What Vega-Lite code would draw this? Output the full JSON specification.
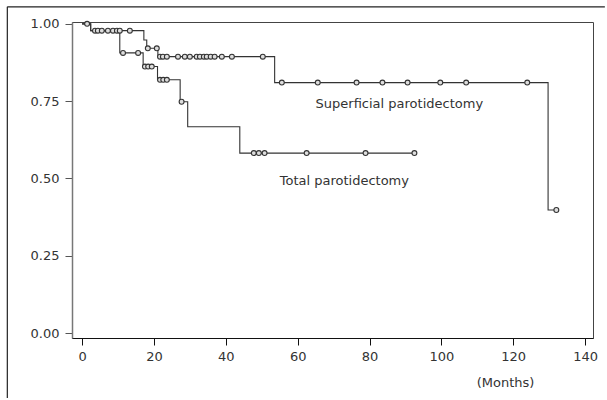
{
  "$schema": "https://vega.github.io/schema/vega-lite/v6.json",
  "width": 521,
  "height": 316,
  "autosize": {"type": "none"},
  "padding": {"left": 72, "top": 22, "right": 14, "bottom": 62},
  "background": "white",
  "config": {
    "view": {"stroke": "#444", "strokeWidth": 1},
    "font": "DejaVu Sans"
  },
  "datasets": {
    "steps": [
      {"group": "Superficial", "t": 0, "s": 1.0},
      {"group": "Superficial", "t": 2.4, "s": 0.978},
      {"group": "Superficial", "t": 17.2, "s": 0.948},
      {"group": "Superficial", "t": 18.0, "s": 0.921},
      {"group": "Superficial", "t": 21.1, "s": 0.894},
      {"group": "Superficial", "t": 53.6, "s": 0.81},
      {"group": "Superficial", "t": 129.7, "s": 0.398},
      {"group": "Superficial", "t": 132, "s": 0.398},
      {"group": "Total", "t": 0, "s": 1.0},
      {"group": "Total", "t": 2.4, "s": 0.978},
      {"group": "Total", "t": 10.5, "s": 0.906},
      {"group": "Total", "t": 17.0, "s": 0.862},
      {"group": "Total", "t": 21.0, "s": 0.819},
      {"group": "Total", "t": 27.3, "s": 0.748},
      {"group": "Total", "t": 29.4, "s": 0.667},
      {"group": "Total", "t": 43.9, "s": 0.582},
      {"group": "Total", "t": 92.5, "s": 0.582}
    ],
    "censored": [
      {"group": "Superficial", "t": 1.4, "s": 1.0},
      {"group": "Superficial", "t": 3.6, "s": 0.978},
      {"group": "Superficial", "t": 4.4, "s": 0.978},
      {"group": "Superficial", "t": 5.5, "s": 0.978},
      {"group": "Superficial", "t": 7.2, "s": 0.978},
      {"group": "Superficial", "t": 8.6, "s": 0.978},
      {"group": "Superficial", "t": 9.7, "s": 0.978},
      {"group": "Superficial", "t": 10.5, "s": 0.978},
      {"group": "Superficial", "t": 13.3, "s": 0.978},
      {"group": "Superficial", "t": 18.3, "s": 0.921},
      {"group": "Superficial", "t": 20.8, "s": 0.921},
      {"group": "Superficial", "t": 21.7, "s": 0.894},
      {"group": "Superficial", "t": 22.5, "s": 0.894},
      {"group": "Superficial", "t": 23.6, "s": 0.894},
      {"group": "Superficial", "t": 26.7, "s": 0.894},
      {"group": "Superficial", "t": 28.6, "s": 0.894},
      {"group": "Superficial", "t": 30.0, "s": 0.894},
      {"group": "Superficial", "t": 31.9, "s": 0.894},
      {"group": "Superficial", "t": 32.8, "s": 0.894},
      {"group": "Superficial", "t": 33.9, "s": 0.894},
      {"group": "Superficial", "t": 34.7, "s": 0.894},
      {"group": "Superficial", "t": 35.8, "s": 0.894},
      {"group": "Superficial", "t": 36.9, "s": 0.894},
      {"group": "Superficial", "t": 38.9, "s": 0.894},
      {"group": "Superficial", "t": 41.7, "s": 0.894},
      {"group": "Superficial", "t": 50.3, "s": 0.894},
      {"group": "Superficial", "t": 55.6, "s": 0.81},
      {"group": "Superficial", "t": 65.6, "s": 0.81},
      {"group": "Superficial", "t": 76.4, "s": 0.81},
      {"group": "Superficial", "t": 83.6, "s": 0.81},
      {"group": "Superficial", "t": 90.6, "s": 0.81},
      {"group": "Superficial", "t": 99.7, "s": 0.81},
      {"group": "Superficial", "t": 106.9, "s": 0.81},
      {"group": "Superficial", "t": 123.9, "s": 0.81},
      {"group": "Superficial", "t": 132, "s": 0.398},
      {"group": "Total", "t": 11.4, "s": 0.906},
      {"group": "Total", "t": 15.6, "s": 0.906},
      {"group": "Total", "t": 17.5, "s": 0.862},
      {"group": "Total", "t": 18.4, "s": 0.862},
      {"group": "Total", "t": 19.4, "s": 0.862},
      {"group": "Total", "t": 21.7, "s": 0.819},
      {"group": "Total", "t": 22.6, "s": 0.819},
      {"group": "Total", "t": 23.6, "s": 0.819},
      {"group": "Total", "t": 27.7, "s": 0.748},
      {"group": "Total", "t": 47.8, "s": 0.582},
      {"group": "Total", "t": 49.2, "s": 0.582},
      {"group": "Total", "t": 50.8, "s": 0.582},
      {"group": "Total", "t": 62.5, "s": 0.582},
      {"group": "Total", "t": 78.9, "s": 0.582},
      {"group": "Total", "t": 92.5, "s": 0.582}
    ],
    "labels": [
      {"label": "Superficial parotidectomy", "t": 88.3, "s": 0.741},
      {"label": "Total parotidectomy", "t": 73, "s": 0.492}
    ],
    "frame": [
      {"edge": "figure"}
    ]
  },
  "layer": [
    {
      "data": {"name": "steps"},
      "mark": {"type": "line", "interpolate": "step-after", "color": "#333", "strokeWidth": 1.1},
      "encoding": {
        "x": {
          "field": "t", "type": "quantitative",
          "scale": {"domain": [-2.8, 142.2], "nice": false, "zero": false},
          "axis": {
            "values": [0, 20, 40, 60, 80, 100, 120, 140],
            "title": "(Months)", "titleFontWeight": "normal", "titleFontSize": 13, "titleColor": "#333",
            "titleX": 433, "titleY": 48, "titleAlign": "center", "titleBaseline": "alphabetic",
            "labelFontSize": 13, "labelColor": "#333", "labelPadding": 5,
            "tickSize": 7, "tickColor": "#111", "domainColor": "#111", "grid": false,
            "offset": 0
          }
        },
        "y": {
          "field": "s", "type": "quantitative",
          "scale": {"domain": [-0.016, 1.006], "nice": false, "zero": false},
          "axis": {
            "values": [0, 0.25, 0.5, 0.75, 1.0], "format": ".2f", "title": null,
            "labelFontSize": 13, "labelColor": "#333", "labelPadding": 6,
            "tickSize": 7, "tickColor": "#555", "domainColor": "#777", "domainWidth": 1.5, "grid": false
          }
        },
        "detail": {"field": "group"}
      }
    },
    {
      "data": {"name": "censored"},
      "mark": {"type": "point", "shape": "circle", "filled": false, "color": "#333", "fill": "#ddd", "fillOpacity": 1, "strokeWidth": 1.1, "size": 24},
      "encoding": {
        "x": {"field": "t", "type": "quantitative"},
        "y": {"field": "s", "type": "quantitative"}
      }
    },
    {
      "data": {"name": "labels"},
      "mark": {"type": "text", "fontSize": 13, "color": "#333", "align": "center", "baseline": "middle"},
      "encoding": {
        "x": {"field": "t", "type": "quantitative"},
        "y": {"field": "s", "type": "quantitative"},
        "text": {"field": "label"}
      }
    },
    {
      "data": {"name": "frame"},
      "mark": {"type": "rule", "color": "#222", "strokeWidth": 1.2, "clip": false},
      "encoding": {
        "x": {"datum": -20.8},
        "y": {"datum": -0.21},
        "y2": {"datum": 1.055}
      }
    },
    {
      "data": {"name": "frame"},
      "mark": {"type": "rule", "color": "#222", "strokeWidth": 1.2, "clip": false},
      "encoding": {
        "x": {"datum": -20.8},
        "x2": {"datum": 145.5},
        "y": {"datum": 1.055}
      }
    }
  ]
}
